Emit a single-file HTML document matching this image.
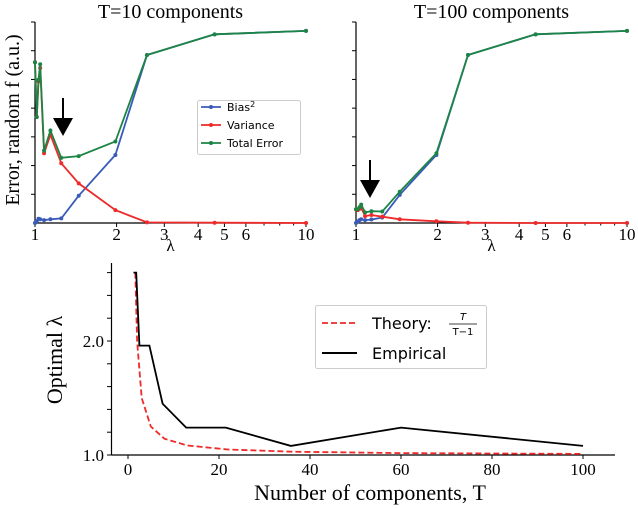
<!DOCTYPE html>
<html><head><meta charset="utf-8"><style>
html,body{margin:0;padding:0;background:#fff;}
svg{display:block;}
.serif{font-family:"Liberation Serif",serif;}
.sans{font-family:"DejaVu Sans","Liberation Sans",sans-serif;}
</style></head><body>
<svg id="fig" width="638" height="508" viewBox="0 0 638 508" xmlns="http://www.w3.org/2000/svg">
<g id="topPanels"></g>
<g id="botPanel"></g>
</svg>
<script>
// ---- data: T=10 panel ----
const lambdas10 = [1.0,1.015,1.03,1.045,1.08,1.14,1.25,1.45,1.98,2.59,4.6,10];
const bias10 = [0,0.06,0.15,0.13,0.1,0.13,0.16,0.95,2.37,5.85,6.57,6.69];
const variance10 = [5.6,3.69,4.93,5.4,2.43,3.07,2.08,1.38,0.45,0.02,0.01,0];
const total10 = [5.6,3.69,4.99,5.53,2.52,3.22,2.27,2.33,2.84,5.85,6.57,6.69];
// ---- data: T=100 panel ----
const lambdas100 = [1.0,1.015,1.03,1.045,1.08,1.14,1.25,1.45,1.98,2.59,4.6,10];
const bias100 = [0,0.05,0.1,0.13,0.1,0.12,0.19,0.98,2.37,5.85,6.57,6.69];
const variance100 = [0.47,0.45,0.49,0.52,0.24,0.28,0.22,0.13,0.06,0.01,0,0];
const total100 = [0.48,0.48,0.55,0.64,0.37,0.41,0.40,1.09,2.43,5.85,6.57,6.69];
const xTickVals = [1,2,3,4,5,6,10];
const xTickLabels = ["1","2","3","4","5","6","10"];
// ---- data: bottom panel ----
const theoryT = [1.6,2,3,5,8,13,22,36,60,100];
const theoryVals = [2.6,2.0,1.5,1.25,1.143,1.083,1.048,1.029,1.017,1.01];
const empT = [1.2,1.8,2.5,4.7,7.6,12.8,21.5,35.8,60,100];
const empVals = [2.6,2.6,1.96,1.96,1.45,1.24,1.24,1.08,1.24,1.08];
const botXTicks = [0,20,40,60,80,100];
const botYTicks = [1.0,1.2,1.4,1.6,1.8,2.0,2.2,2.4,2.6];

const NS="http://www.w3.org/2000/svg";
function mk(parent,tag,attrs,text){const e=document.createElementNS(NS,tag);for(const k in attrs)e.setAttribute(k,attrs[k]);if(text!==undefined)e.textContent=text;parent.appendChild(e);return e;}
const BLUE="#3a5bb8",RED="#ee2a2a",GREEN="#1c8545";
const topG=document.getElementById('topPanels');

function panel(x0,x1,title,lams,b,v,t,arrowX,arrowY,idx){
  const g=mk(topG,'g',{});
  
  
  const y0=223, y7=22;
  const sx=l=>x0+(x1-x0)*Math.log10(l);
  const sy=v=>y0-(y0-y7)*v/7;
  let s=mk(g,'line',{x1:x0,y1:y0,x2:x1+2,y2:y0,stroke:'#000','stroke-width':1.2});
  
  s=mk(g,'line',{x1:x0,y1:y0,x2:x0,y2:y7,stroke:'#000','stroke-width':1.2});
  
  for(let i=1;i<=7;i++){const tk=mk(g,'line',{x1:x0-4,y1:sy(i),x2:x0,y2:sy(i),stroke:'#000','stroke-width':1});
    }
  for(let l=1;l<=10;l++){const tk=mk(g,'line',{x1:sx(l),y1:y0,x2:sx(l),y2:y0+(xTickVals.includes(l)?4:2.5),stroke:'#000','stroke-width':1});
    }
  xTickVals.forEach((l,i)=>{const tl=mk(g,'text',{x:sx(l),y:y0+17,'text-anchor':'middle','font-size':17,class:'serif'},xTickLabels[i]);
    });
  let tt=mk(g,'text',{x:(x0+x1)/2,y:18,'text-anchor':'middle','font-size':20,class:'serif'},title);
  
  let xl=mk(g,'text',{x:(x0+x1)/2,y:251,'text-anchor':'middle','font-size':17,class:'serif'},'λ');
  
  [[b,BLUE,'bias-series'],[v,RED,'variance-series'],[t,GREEN,'total-error-series']].forEach(([arr,c,n])=>{
    const pts=arr.map((val,i)=>sx(lams[i]).toFixed(1)+','+sy(val).toFixed(1)).join(' ');
    const ser=mk(g,'g',{});
    
    mk(ser,'polyline',{points:pts,fill:'none',stroke:c,'stroke-width':1.8});
    arr.forEach((val,i)=>{const p=mk(ser,'circle',{cx:sx(lams[i]),cy:sy(val),r:2,fill:c});
      });
  });
  const ar=mk(g,'g',{});
  
  mk(ar,'line',{x1:arrowX,y1:arrowY,x2:arrowX,y2:arrowY+24,stroke:'#000','stroke-width':2});
  mk(ar,'polygon',{points:(arrowX-10)+','+(arrowY+20)+' '+(arrowX+10)+','+(arrowY+20)+' '+arrowX+','+(arrowY+38),fill:'#000'});
}
panel(35,306,'T=10 components',lambdas10,bias10,variance10,total10,63,98,'t10');
panel(356,627,'T=100 components',lambdas100,bias100,variance100,total100,370,160,'t100');

let yl=mk(topG,'text',{x:0,y:0,'text-anchor':'middle','font-size':20,class:'serif',transform:'translate(19,120) rotate(-90)'},'Error, random f (a.u.)');


const lg=mk(topG,'g',{});

mk(lg,'rect',{x:197.5,y:100.5,width:103,height:54,rx:2,fill:'#fff',stroke:'#ccc','stroke-width':1});
[['Bias',BLUE,107,'legend-entry-bias'],['Variance',RED,125,'legend-entry-variance'],['Total Error',GREEN,143,'legend-entry-total-error']].forEach(([lab,c,y,n])=>{
  const e=mk(lg,'g',{});
  
  mk(e,'line',{x1:201,y1:y,x2:221,y2:y,stroke:c,'stroke-width':1.8});
  mk(e,'circle',{cx:211,cy:y,r:2,fill:c});
  const t=mk(e,'text',{x:227,y:y+4,'font-size':11,class:'sans'},lab);
  if(lab==='Bias'){mk(t,'tspan',{dy:-4,'font-size':8},'2');}
});

// ---- bottom panel ----
const botG=document.getElementById('botPanel');
const bx0=128,bx1=583,by0=455,by1=341;
const bsx=T=>bx0+(bx1-bx0)*T/100;
const bsy=v=>by0-(by0-by1)*(v-1);
let sp=mk(botG,'line',{x1:111.5,y1:by0,x2:615,y2:by0,stroke:'#000','stroke-width':1.2});

sp=mk(botG,'line',{x1:111.5,y1:by0,x2:111.5,y2:263,stroke:'#000','stroke-width':1.2});

botYTicks.forEach(v=>{const tk=mk(botG,'line',{x1:107,y1:bsy(v),x2:111.5,y2:bsy(v),stroke:'#000','stroke-width':1});
  });
[[1.0,'1.0'],[2.0,'2.0']].forEach(([v,l])=>{const t=mk(botG,'text',{x:104,y:bsy(v)+6,'text-anchor':'end','font-size':17,class:'serif'},l);
  });
botXTicks.forEach(T=>{const tk=mk(botG,'line',{x1:bsx(T),y1:by0,x2:bsx(T),y2:by0+4,stroke:'#000','stroke-width':1});
  
  const t=mk(botG,'text',{x:bsx(T),y:by0+20,'text-anchor':'middle','font-size':17,class:'serif'},String(T));
  });
let bxl=mk(botG,'text',{x:370,y:500,'text-anchor':'middle','font-size':22,class:'serif'},'Number of components, T');

let byl=mk(botG,'text',{x:0,y:0,'text-anchor':'middle','font-size':22,class:'serif',transform:'translate(62,360) rotate(-90)'},'Optimal λ');

let th=mk(botG,'polyline',{points:theoryT.map((T,i)=>bsx(T).toFixed(1)+','+bsy(theoryVals[i]).toFixed(1)).join(' '),fill:'none',stroke:RED,'stroke-width':1.8,'stroke-dasharray':'6,3'});

let em=mk(botG,'polyline',{points:empT.map((T,i)=>bsx(T).toFixed(1)+','+bsy(empVals[i]).toFixed(1)).join(' '),fill:'none',stroke:'#000','stroke-width':1.8});

const blg=mk(botG,'g',{});

mk(blg,'rect',{x:315.5,y:305.5,width:171,height:63,rx:2,fill:'#fff',stroke:'#ccc','stroke-width':1});
const e1=mk(blg,'g',{});

mk(e1,'line',{x1:322,y1:323,x2:357,y2:323,stroke:RED,'stroke-width':1.8,'stroke-dasharray':'6,3'});
mk(e1,'text',{x:372,y:329,'font-size':16,class:'sans'},'Theory:');
mk(e1,'text',{x:463,y:320,'font-size':10,'font-style':'italic','text-anchor':'middle',class:'sans'},'T');
mk(e1,'line',{x1:449,y1:324,x2:477,y2:324,stroke:'#000','stroke-width':0.8});
mk(e1,'text',{x:463,y:335,'font-size':10,'text-anchor':'middle',class:'sans'},'T−1');
const e2=mk(blg,'g',{});

mk(e2,'line',{x1:322,y1:353,x2:357,y2:353,stroke:'#000','stroke-width':2});
mk(e2,'text',{x:372,y:359,'font-size':16,class:'sans'},'Empirical');
</script>
</body></html>
